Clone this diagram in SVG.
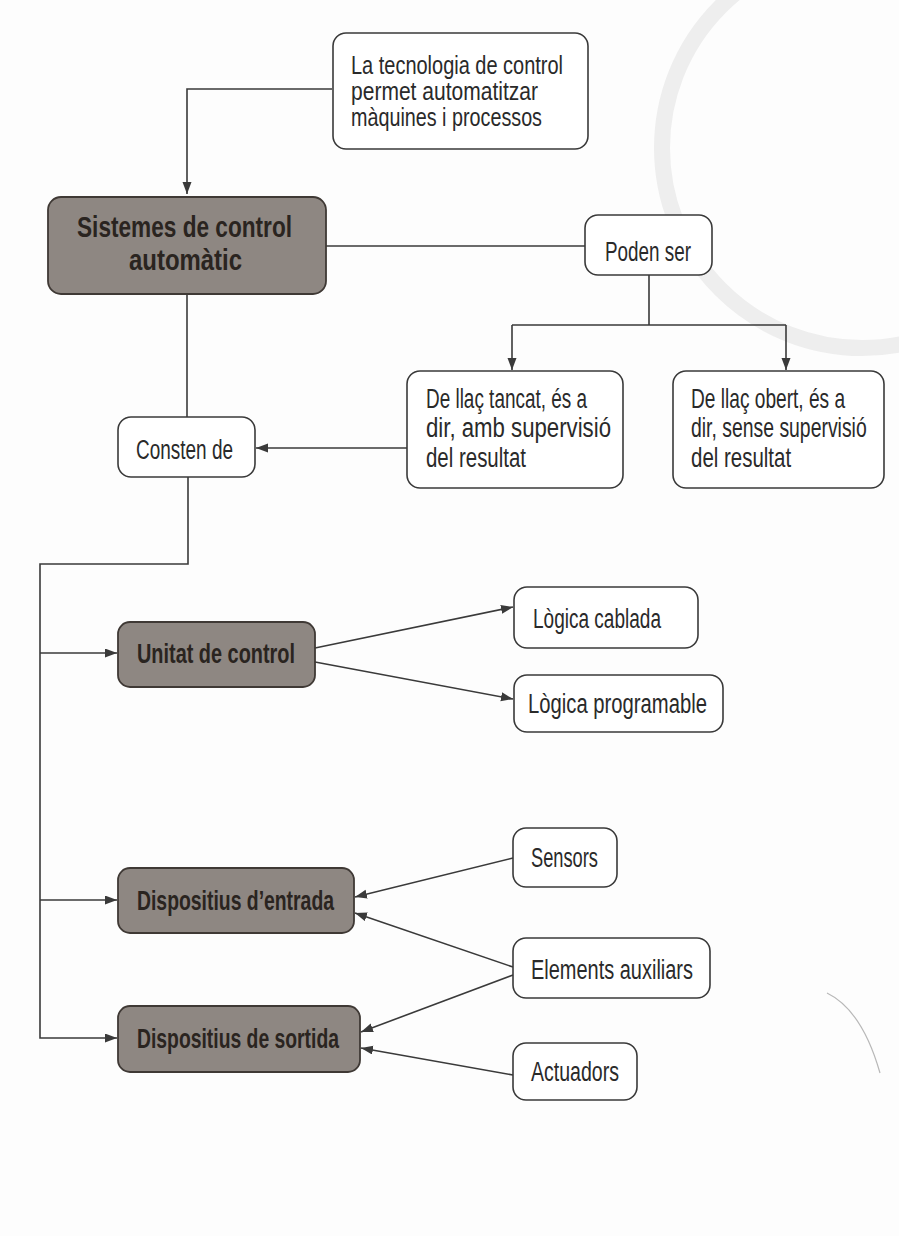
<svg xmlns="http://www.w3.org/2000/svg" width="899" height="1236" viewBox="0 0 899 1236">
<defs>
<style>
.box{fill:#ffffff;stroke:#3a3a3a;stroke-width:1.6}
.gbox{fill:#8e8782;stroke:#3f3935;stroke-width:1.8}
.t{font-family:"Liberation Sans Narrow","Liberation Sans",Arial,sans-serif;font-size:27px;fill:#2a2a2a}
.s{font-size:25px}
.b{font-family:"Liberation Sans Narrow","Liberation Sans",Arial,sans-serif;font-size:27px;font-weight:bold;fill:#2a2420}
.c{fill:none;stroke:#3a3a3a;stroke-width:1.6}
.a{marker-end:url(#arr)}
</style>
<marker id="arr" markerUnits="userSpaceOnUse" markerWidth="14" markerHeight="10" refX="12" refY="4.5" orient="auto">
<path d="M0,0 L12,4.5 L0,9 Z" fill="#3a3a3a"/>
</marker>
</defs>
<rect x="0" y="0" width="899" height="1236" fill="#fdfdfd"/>
<g id="background">
<circle cx="862" cy="148" r="200" fill="none" stroke="#eeeeee" stroke-width="16"/>
<path d="M827,993 Q862,1010 880,1073" fill="none" stroke="#b8b8b8" stroke-width="1.2"/>
</g>
<g id="connectors">
<path class="c a" d="M332,89 H187 V194"/>
<path class="c" d="M326,246 H585"/>
<path class="c" d="M649,275 V325 M512,325 H786"/>
<path class="c a" d="M512,325 V370"/>
<path class="c a" d="M786,325 V370"/>
<path class="c" d="M187,294 V417"/>
<path class="c a" d="M407,448 H256"/>
<path class="c a" d="M188,477 V564 H40 V1038 H117"/>
<path class="c a" d="M40,653 H117"/>
<path class="c a" d="M40,900 H117"/>
<path class="c a" d="M315,648 L513,607"/>
<path class="c a" d="M315,662 L513,699"/>
<path class="c a" d="M513,858 L355,897"/>
<path class="c a" d="M513,967 L355,913"/>
<path class="c a" d="M513,975 L361,1032"/>
<path class="c a" d="M513,1075 L361,1048"/>
</g>
<g id="node-tecnologia">
<rect class="box" x="333" y="33" width="255" height="116" rx="13"/>
<text class="t s" x="351" y="74" textLength="212" lengthAdjust="spacingAndGlyphs">La tecnologia de control</text>
<text class="t s" x="351" y="100" textLength="187" lengthAdjust="spacingAndGlyphs">permet automatitzar</text>
<text class="t s" x="351" y="126" textLength="191" lengthAdjust="spacingAndGlyphs">màquines i processos</text>
</g>
<g id="node-sistemes">
<rect class="gbox" x="48" y="197" width="278" height="97" rx="13"/>
<text class="b" x="77" y="237" style="font-size:30px" textLength="215" lengthAdjust="spacingAndGlyphs">Sistemes de control</text>
<text class="b" x="129" y="270" style="font-size:30px" textLength="113" lengthAdjust="spacingAndGlyphs">automàtic</text>
</g>
<g id="node-poden">
<rect class="box" x="585" y="215" width="127" height="60" rx="13"/>
<text class="t" x="605" y="261" textLength="86" lengthAdjust="spacingAndGlyphs">Poden ser</text>
</g>
<g id="node-tancat">
<rect class="box" x="407" y="371" width="216" height="117" rx="13"/>
<text class="t" x="426" y="408" textLength="161" lengthAdjust="spacingAndGlyphs">De llaç tancat, és a</text>
<text class="t" x="426" y="437" textLength="185" lengthAdjust="spacingAndGlyphs">dir, amb supervisió</text>
<text class="t" x="426" y="467" textLength="100" lengthAdjust="spacingAndGlyphs">del resultat</text>
</g>
<g id="node-obert">
<rect class="box" x="673" y="371" width="211" height="117" rx="13"/>
<text class="t" transform="translate(691,408) scale(0.72,1)" x="0" y="0" textLength="214" lengthAdjust="spacingAndGlyphs">De llaç obert, és a</text>
<text class="t" transform="translate(691,437) scale(0.72,1)" x="0" y="0" textLength="244" lengthAdjust="spacingAndGlyphs">dir, sense supervisió</text>
<text class="t" transform="translate(691,467) scale(0.72,1)" x="0" y="0" textLength="139" lengthAdjust="spacingAndGlyphs">del resultat</text>
</g>
<g id="node-consten">
<rect class="box" x="118" y="417" width="137" height="60" rx="13"/>
<text class="t" x="136" y="459" textLength="97" lengthAdjust="spacingAndGlyphs">Consten de</text>
</g>
<g id="node-unitat">
<rect class="gbox" x="118" y="622" width="197" height="65" rx="12"/>
<text class="b" x="137" y="663" textLength="158" lengthAdjust="spacingAndGlyphs">Unitat de control</text>
</g>
<g id="node-cablada">
<rect class="box" x="514" y="587" width="184" height="61" rx="13"/>
<text class="t" x="533" y="628" textLength="128" lengthAdjust="spacingAndGlyphs">Lògica cablada</text>
</g>
<g id="node-programable">
<rect class="box" x="514" y="675" width="209" height="57" rx="13"/>
<text class="t" x="528" y="713" textLength="179" lengthAdjust="spacingAndGlyphs">Lògica programable</text>
</g>
<g id="node-sensors">
<rect class="box" x="513" y="828" width="104" height="59" rx="13"/>
<text class="t" x="531" y="867" textLength="67" lengthAdjust="spacingAndGlyphs">Sensors</text>
</g>
<g id="node-entrada">
<rect class="gbox" x="118" y="868" width="236" height="65" rx="12"/>
<text class="b" x="137" y="910" textLength="197" lengthAdjust="spacingAndGlyphs">Dispositius d’entrada</text>
</g>
<g id="node-elements">
<rect class="box" x="513" y="938" width="197" height="60" rx="13"/>
<text class="t" x="531" y="979" textLength="162" lengthAdjust="spacingAndGlyphs">Elements auxiliars</text>
</g>
<g id="node-sortida">
<rect class="gbox" x="118" y="1006" width="242" height="66" rx="12"/>
<text class="b" x="137" y="1048" textLength="202" lengthAdjust="spacingAndGlyphs">Dispositius de sortida</text>
</g>
<g id="node-actuadors">
<rect class="box" x="513" y="1043" width="124" height="57" rx="13"/>
<text class="t" x="531" y="1081" textLength="88" lengthAdjust="spacingAndGlyphs">Actuadors</text>
</g>
</svg>
